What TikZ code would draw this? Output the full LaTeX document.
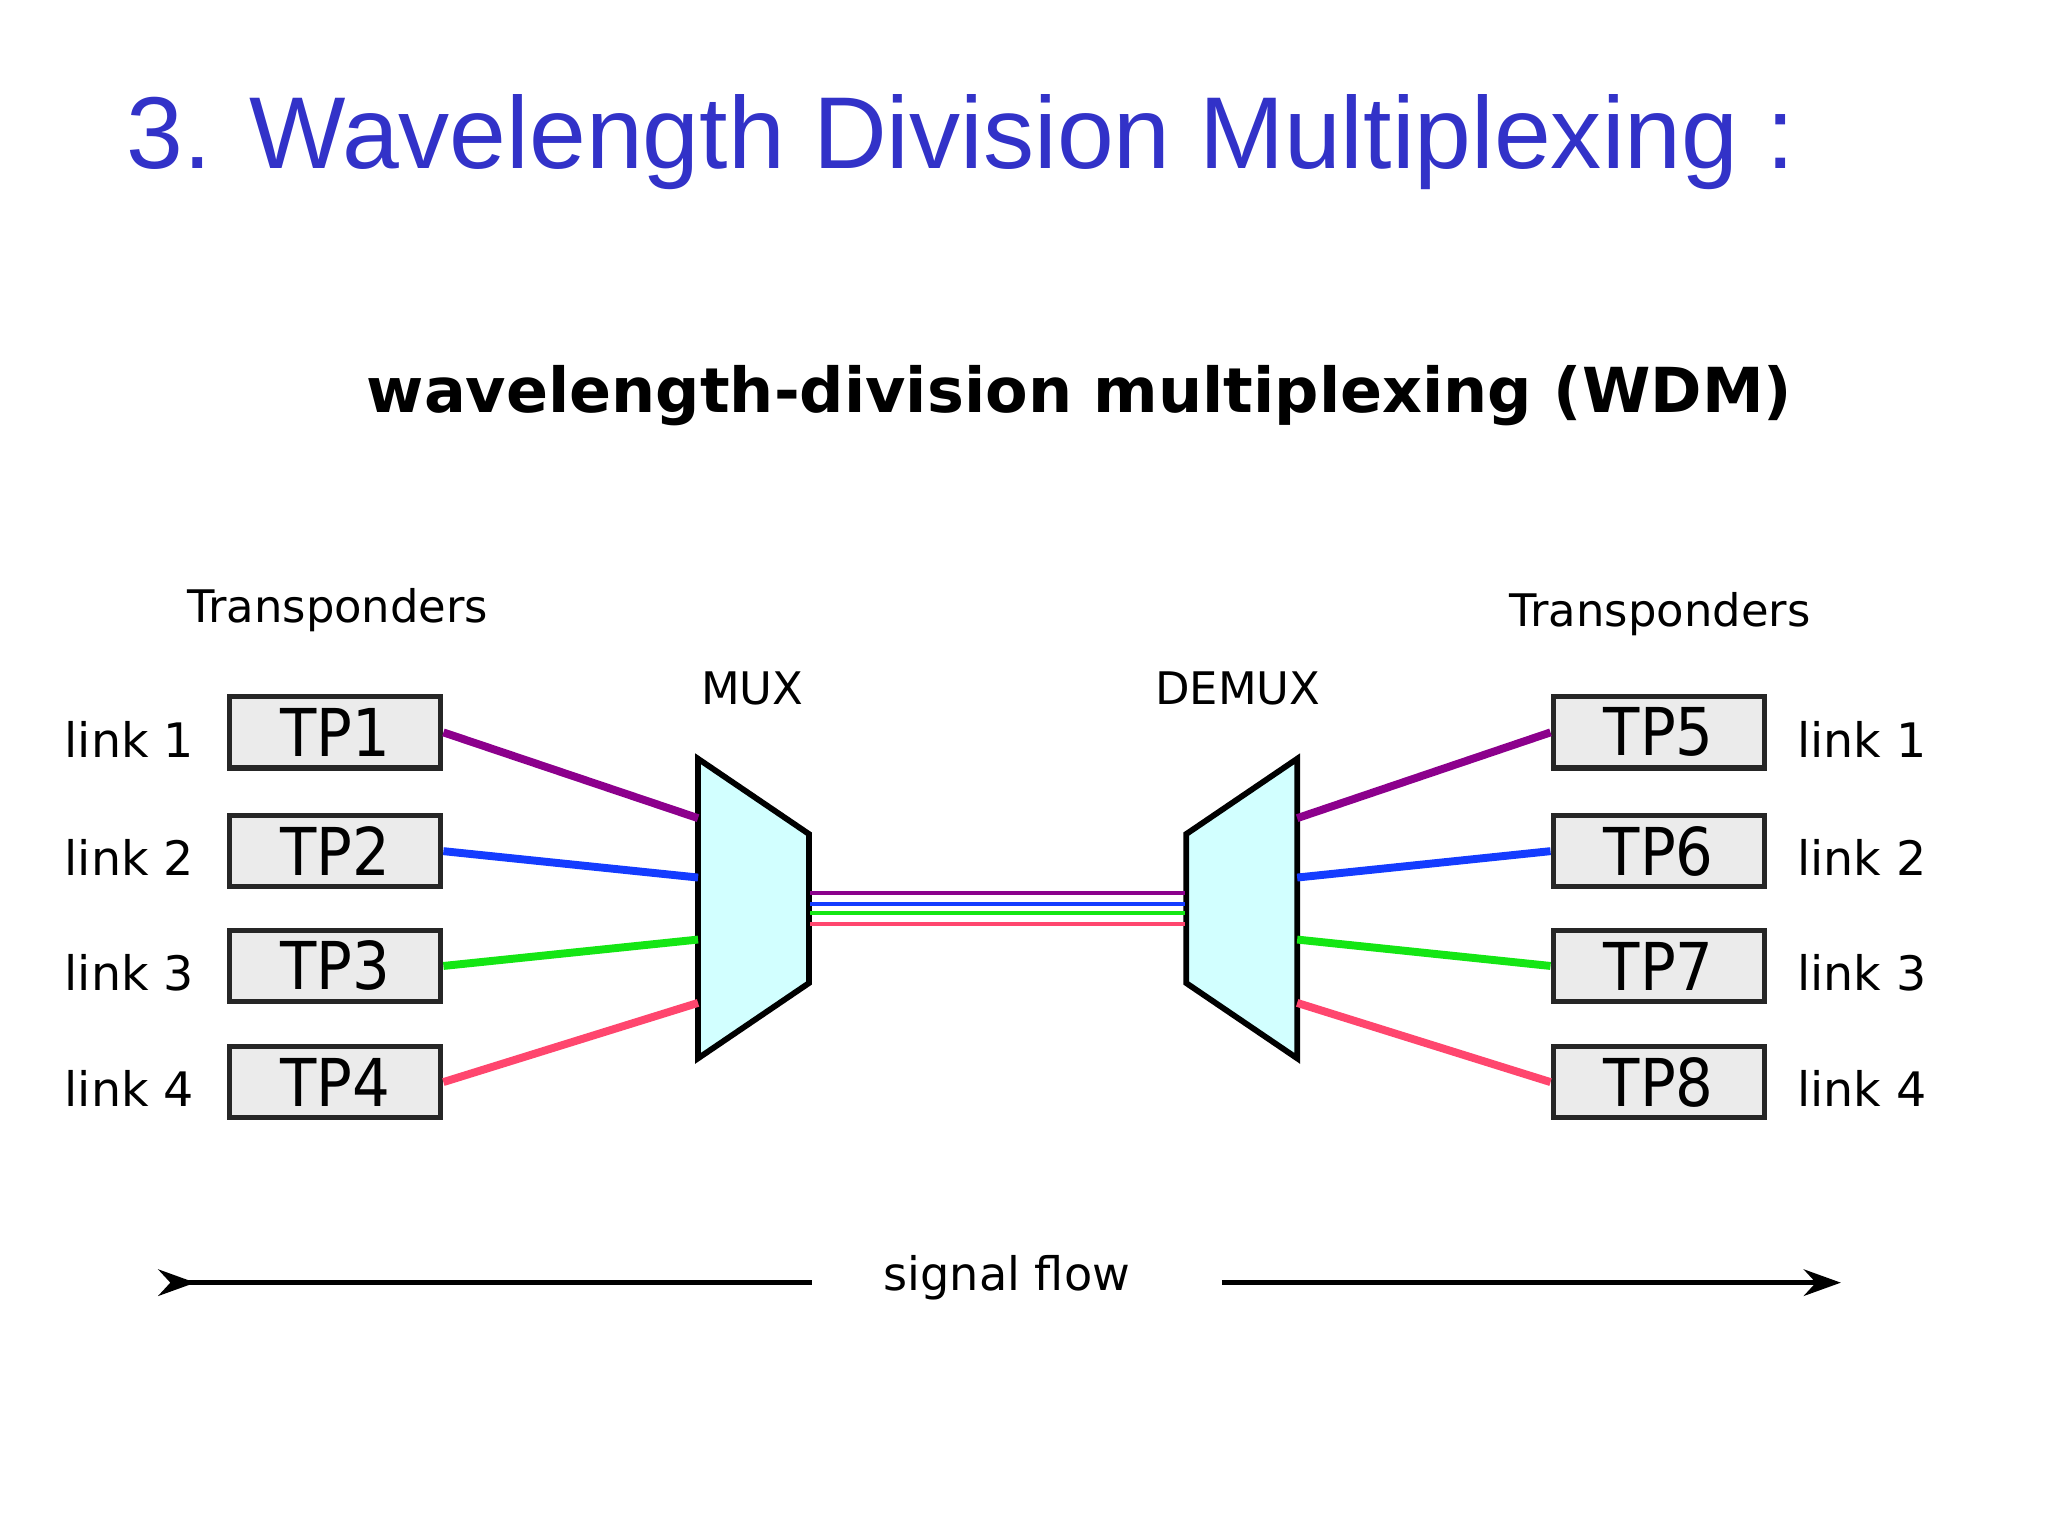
\documentclass[tikz,border=0pt]{standalone}
\usepackage{fontspec}
\setmainfont{DejaVu Sans}
\newfontfamily\titlefont{Liberation Sans}
\newfontfamily\tpfont{DejaVu Sans Condensed}
\usetikzlibrary{arrows.meta}
\definecolor{ttlblue}{RGB}{50,50,200}
\definecolor{lnpurple}{RGB}{140,0,140}
\definecolor{lnblue}{RGB}{20,60,255}
\definecolor{lngreen}{RGB}{20,230,20}
\definecolor{lnpink}{RGB}{255,70,110}
\definecolor{muxfill}{RGB}{210,255,255}
\definecolor{tpfill}{RGB}{235,235,235}
\tikzset{every picture/.style={line width=0.75pt}}
\begin{document}
\begin{tikzpicture}[x=0.5pt,y=-0.5pt,
  tpbox/.style={draw=black!85,fill=tpfill,line width=2pt,minimum width=80pt,minimum height=27pt,inner sep=0pt,font=\tpfont\fontsize{25}{25}\selectfont},
  linklbl/.style={inner sep=0pt,font=\fontsize{18}{18}\selectfont},
  hdr/.style={inner sep=0pt,font=\fontsize{17}{17}\selectfont},
  wire/.style={line width=3pt},
  fiber/.style={line width=1.5pt},
  box/.style={draw=black,fill=muxfill,line width=2.2pt,line join=miter}]
	\useasboundingbox (0,0) rectangle (1552,1164);
	
	% Title
	\node (title) [anchor=base west,inner sep=0pt,text=ttlblue,font=\titlefont\fontsize{38.7}{38.7}\selectfont] at (95,128) {3. Wavelength Division Multiplexing :};
	\node (sub) [inner sep=0pt,font=\bfseries\fontsize{23.5}{23.5}\selectfont] at (818,300) {wavelength-division multiplexing (WDM)};
	
	% Transponders
	\node (hdrL) [hdr] at (256,462) {Transponders};
	\node (hdrR) [hdr] at (1258,465) {Transponders};
	\foreach \i/\y in {1/555,2/645,3/732,4/820}{
		\node (tpL\i) [tpbox] at (254,\y) {TP\i};
		\pgfmathtruncatemacro{\j}{\i+4}
		\node (tpR\i) [tpbox] at (1257,\y) {TP\j};
		\node (lkL\i) [linklbl] at (98,\y+5) {link \i};
		\node (lkR\i) [linklbl] at (1411,\y+5) {link \i};
	}
	
	% MUX / DEMUX
	\draw [box] (529,575) -- (613,632) -- (613,745) -- (529,802) -- cycle;
	\draw [box] (983,575) -- (899,632) -- (899,745) -- (983,802) -- cycle;
	\node (mux) [hdr] at (570,522) {MUX};
	\node (demux) [hdr] at (938,522) {DEMUX};
	\coordinate (mA) at (529,620); \coordinate (mB) at (529,665);
	\coordinate (mC) at (529,712); \coordinate (mD) at (529,760);
	\coordinate (dA) at (983,620); \coordinate (dB) at (983,665);
	\coordinate (dC) at (983,712); \coordinate (dD) at (983,760);
	
	% wires
	\draw [wire,lnpurple] (tpL1.east) -- (mA);
	\draw [wire,lnblue] (tpL2.east) -- (mB);
	\draw [wire,lngreen] (tpL3.east) -- (mC);
	\draw [wire,lnpink] (tpL4.east) -- (mD);
	\draw [wire,lnpurple] (tpR1.west) -- (dA);
	\draw [wire,lnblue] (tpR2.west) -- (dB);
	\draw [wire,lngreen] (tpR3.west) -- (dC);
	\draw [wire,lnpink] (tpR4.west) -- (dD);
	
	% fiber
	\foreach \c/\y in {lnpurple/677,lnblue/685,lngreen/692,lnpink/700}
		\draw [fiber,\c] (614,\y) -- (898,\y);
	
	% signal flow
	\node (flow) [hdr,font=\fontsize{17.5}{17.5}\selectfont] at (763,968) {signal flow};
	\coordinate (fl0) at (120,972); \coordinate (fl1) at (615,972);
	\coordinate (fr0) at (926,972); \coordinate (fr1) at (1395,972);
	\draw [line width=2pt,{Stealth[reversed,length=14pt,width=10pt]}-] (fl0) -- (fl1);
	\draw [line width=2pt,-{Stealth[length=14pt,width=10pt]}] (fr0) -- (fr1);
\end{tikzpicture}
\end{document}
